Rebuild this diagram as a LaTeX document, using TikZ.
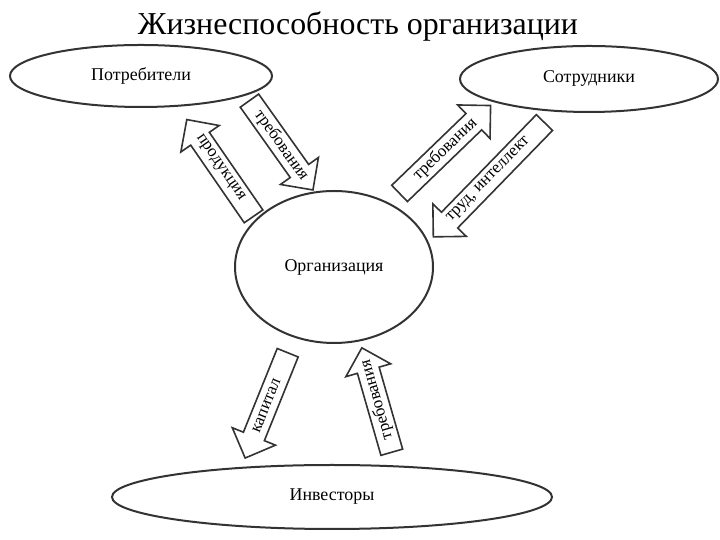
\documentclass[tikz,border=0pt]{standalone}
\usepackage{fontspec}
\setmainfont{Liberation Serif}
\usetikzlibrary{shapes.arrows,shapes.geometric,calc}
\definecolor{ln}{HTML}{333333}
\begin{document}
\begin{tikzpicture}[x=1bp,y=1bp,
  oval/.style={ellipse, draw=ln, line width=2bp, inner sep=0pt, font=\fontsize{18}{20}\selectfont},
  blockarrow/.style={single arrow, draw=ln, line width=1.6bp, inner xsep=0pt, inner ysep=10.5bp,
    single arrow head extend=12bp, minimum height=#1},
  atext/.style={font=\fontsize{17}{19}\selectfont, inner sep=0pt}]
\useasboundingbox[fill=white] (0,0) rectangle (720,540);

\node[font=\fontsize{32}{36}\selectfont, anchor=base] (title) at (358,505) {Жизнеспособность организации};

\node[oval, minimum width=262bp, minimum height=62bp] (potr) at (141,464) {Потребители};
\node[oval, minimum width=258bp, minimum height=66bp] (sotr) at (589,461) {Сотрудники};
\node[oval, minimum width=198bp, minimum height=152bp] (org) at (334,273) {Организация};
\node[oval, minimum width=440bp, minimum height=64bp] (inv) at (332,43) {Инвесторы};

% arrows
\node[blockarrow=110, rotate=-54.6, anchor=tail] (aA) at (249,440) {};
\node[atext, rotate=-54.6] (tA) at ($(aA.tail)!0.5!(aA.tip)$) {требования};

\node[blockarrow=118, rotate=124.6, anchor=tail] (aB) at (254,323) {};
\node[atext, rotate=-55.4] (tB) at ($(aB.tail)!0.5!(aB.tip)$) {продукция};

\node[blockarrow=127, rotate=44, anchor=tail] (aC) at (399,346) {};
\node[atext, rotate=44] (tC) at ($(aC.tail)!0.5!(aC.tip)$) {требования};

\node[blockarrow=160, rotate=225.8, anchor=tail] (aD) at (545,418) {};
\node[atext, rotate=45.8] (tD) at ($(aD.tail)!0.5!(aD.tip)$) {труд, интеллект};

\node[blockarrow=114, rotate=248, anchor=tail] (aE) at (288,188) {};
\node[atext, rotate=68] (tE) at ($(aE.tail)!0.5!(aE.tip)$) {капитал};

\node[blockarrow=109, rotate=106, anchor=tail] (aF) at (392,87) {};
\node[atext, rotate=106] (tF) at ($(aF.tail)!0.5!(aF.tip)$) {требования};
\end{tikzpicture}
\end{document}
